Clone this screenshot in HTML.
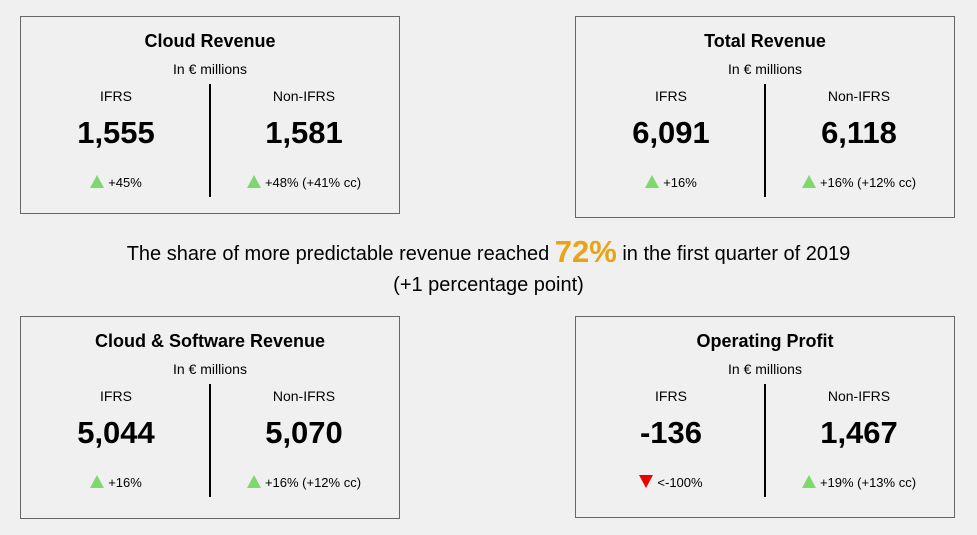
<!DOCTYPE html>
<html><head><meta charset="utf-8"><style>
body{margin:0;width:977px;height:535px;background:#f0f0f0;font-family:"Liberation Sans",Arial,sans-serif;position:relative;overflow:hidden;color:#000}
.card{position:absolute;width:380px;height:198px;border:1px solid #666;box-sizing:border-box}
.t{position:absolute;left:0;right:0;text-align:center;white-space:nowrap}
.title{top:14px;font-size:18px;font-weight:bold}
.unit{top:44px;font-size:14px}
.div{position:absolute;left:188px;top:67px;width:2px;height:113px;background:#000}
.col{position:absolute;width:190px;text-align:center;white-space:nowrap}
.lab{top:71px;font-size:14px}
.num{top:98px;font-size:31px;font-weight:bold}
.chg{top:158px;font-size:13px}
.up{display:inline-block;width:0;height:0;border-left:7px solid transparent;border-right:7px solid transparent;border-bottom:13px solid #7fd86b;margin-right:4px;vertical-align:-1px}
.dn{display:inline-block;width:0;height:0;border-left:7px solid transparent;border-right:7px solid transparent;border-top:13px solid #e00;margin-right:4px;vertical-align:-1px}
.mid{position:absolute;left:0;right:0;text-align:center;font-size:20px;white-space:nowrap}
</style></head><body>

<div class="card" style="left:20px;top:16px">
<div class="t title">Cloud Revenue</div>
<div class="t unit">In € millions</div>
<div class="div"></div>
<div class="col lab" style="left:0">IFRS</div>
<div class="col lab" style="left:188px">Non-IFRS</div>
<div class="col num" style="left:0">1,555</div>
<div class="col num" style="left:188px">1,581</div>
<div class="col chg" style="left:0"><span class="up"></span>+45%</div>
<div class="col chg" style="left:188px"><span class="up"></span>+48% (+41% cc)</div>
</div>

<div class="card" style="left:575px;top:16px;height:202px">
<div class="t title">Total Revenue</div>
<div class="t unit">In € millions</div>
<div class="div"></div>
<div class="col lab" style="left:0">IFRS</div>
<div class="col lab" style="left:188px">Non-IFRS</div>
<div class="col num" style="left:0">6,091</div>
<div class="col num" style="left:188px">6,118</div>
<div class="col chg" style="left:0"><span class="up"></span>+16%</div>
<div class="col chg" style="left:188px"><span class="up"></span>+16% (+12% cc)</div>
</div>

<div class="mid" style="top:234px">The share of more predictable revenue reached <span style="color:#e8a317;font-weight:bold;font-size:31px;vertical-align:-2px">72%</span> in the first quarter of 2019</div>
<div class="mid" style="top:274px">(+1 percentage point)</div>

<div class="card" style="left:20px;top:316px;height:203px">
<div class="t title">Cloud &amp; Software Revenue</div>
<div class="t unit">In € millions</div>
<div class="div"></div>
<div class="col lab" style="left:0">IFRS</div>
<div class="col lab" style="left:188px">Non-IFRS</div>
<div class="col num" style="left:0">5,044</div>
<div class="col num" style="left:188px">5,070</div>
<div class="col chg" style="left:0"><span class="up"></span>+16%</div>
<div class="col chg" style="left:188px"><span class="up"></span>+16% (+12% cc)</div>
</div>

<div class="card" style="left:575px;top:316px;height:202px">
<div class="t title">Operating Profit</div>
<div class="t unit">In € millions</div>
<div class="div"></div>
<div class="col lab" style="left:0">IFRS</div>
<div class="col lab" style="left:188px">Non-IFRS</div>
<div class="col num" style="left:0">-136</div>
<div class="col num" style="left:188px">1,467</div>
<div class="col chg" style="left:0"><span class="dn"></span>&lt;-100%</div>
<div class="col chg" style="left:188px"><span class="up"></span>+19% (+13% cc)</div>
</div>
</body></html>
